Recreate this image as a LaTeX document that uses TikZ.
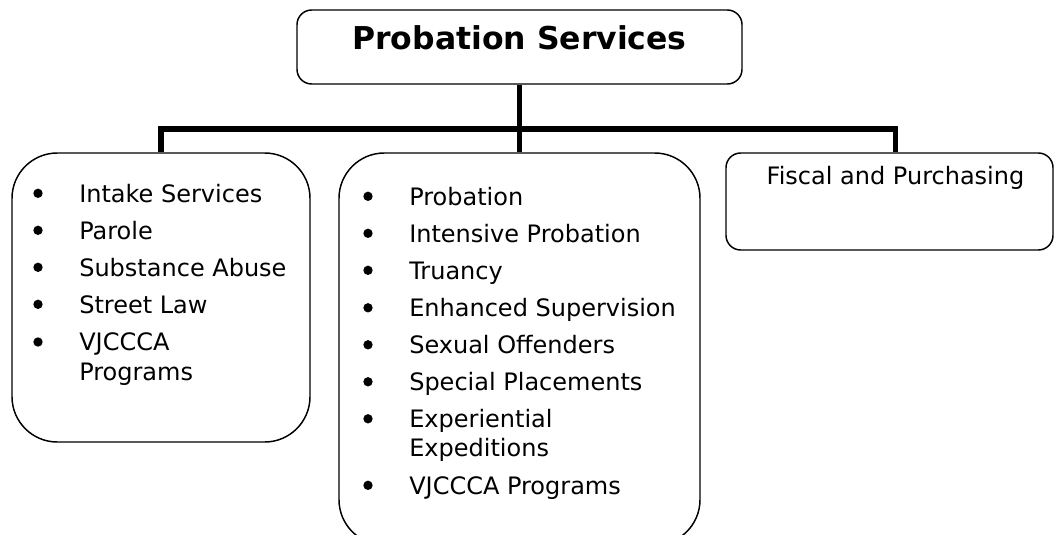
\documentclass[tikz,border=0pt]{standalone}
\usepackage{fontspec}
\setmainfont{DejaVu Sans}
\newcommand\myitemfont{\fontsize{18}{22}\selectfont}
\newcommand\mytitlefont{\fontsize{23.6}{28}\selectfont\bfseries}
\tikzset{
  box/.style={draw, line width=1.1pt, inner sep=0pt},
  conn/.style={line width=4pt, line join=miter},
  item/.style={anchor=base west, inner sep=0pt, font=\myitemfont},
  dot/.style={circle, fill, inner sep=0pt, minimum size=7pt}
}
\begin{document}
\begin{tikzpicture}[x=0.75pt,y=-0.75pt]
\useasboundingbox (0,0) rectangle (1054,535);
% boxes
\node[box, rounded corners=11pt, minimum width=333.75pt, minimum height=55.5pt] (top) at (519.5,47) {};
\node[box, rounded corners=34pt, minimum width=223.5pt, minimum height=216.75pt] (left) at (161,297.5) {};
\node[box, rounded corners=34pt, minimum width=270.75pt, minimum height=294pt] (mid) at (519.5,349) {};
\node[box, rounded corners=11pt, minimum width=245.25pt, minimum height=72.75pt] (right) at (889.5,201.5) {};
% title
\node[anchor=base, inner sep=0pt, font=\mytitlefont] (title) at (519.5,50) {Probation Services};
% connectors
\coordinate (bl) at (161,129);
\coordinate (br) at (895.5,129);
\draw[conn] (top.south) -- (mid.north);
\draw[conn] (left.north) -- (bl) -- (br) -- (br |- right.north);
% left items
\node[dot] (ld1) at (38,193.3) {};
\node[item] (l1) at (79,202) {Intake Services};
\node[dot] (ld2) at (38,230.3) {};
\node[item] (l2) at (79,239) {Parole};
\node[dot] (ld3) at (38,267.3) {};
\node[item] (l3) at (79,276) {Substance Abuse};
\node[dot] (ld4) at (38,304.3) {};
\node[item] (l4) at (79,313) {Street Law};
\node[dot] (ld5) at (38,342) {};
\node[item] (l5) at (79,350.7) {VJCCCA};
\node[item] (l5b) at (79,380) {Programs};
% middle items
\node[dot] (md1) at (368,196.3) {};
\node[item] (m1) at (409,205) {Probation};
\node[dot] (md2) at (368,233.3) {};
\node[item] (m2) at (409,242) {Intensive Probation};
\node[dot] (md3) at (368,270.3) {};
\node[item] (m3) at (409,279) {Truancy};
\node[dot] (md4) at (368,307.8) {};
\node[item] (m4) at (409,316.5) {Enhanced Supervision};
\node[dot] (md5) at (368,344.8) {};
\node[item] (m5) at (409,353.5) {Sexual Offenders};
\node[dot] (md6) at (368,381.8) {};
\node[item] (m6) at (409,390.5) {Special Placements};
\node[dot] (md7) at (368,418.8) {};
\node[item] (m7) at (409,427.5) {Experiential};
\node[item] (m7b) at (409,456.9) {Expeditions};
\node[dot] (md8) at (368,485.3) {};
\node[item] (m8) at (409,494) {VJCCCA Programs};
% right
\node[anchor=base, inner sep=0pt, font=\myitemfont] (r1) at (895.5,185) {Fiscal and Purchasing};
\end{tikzpicture}
\end{document}
